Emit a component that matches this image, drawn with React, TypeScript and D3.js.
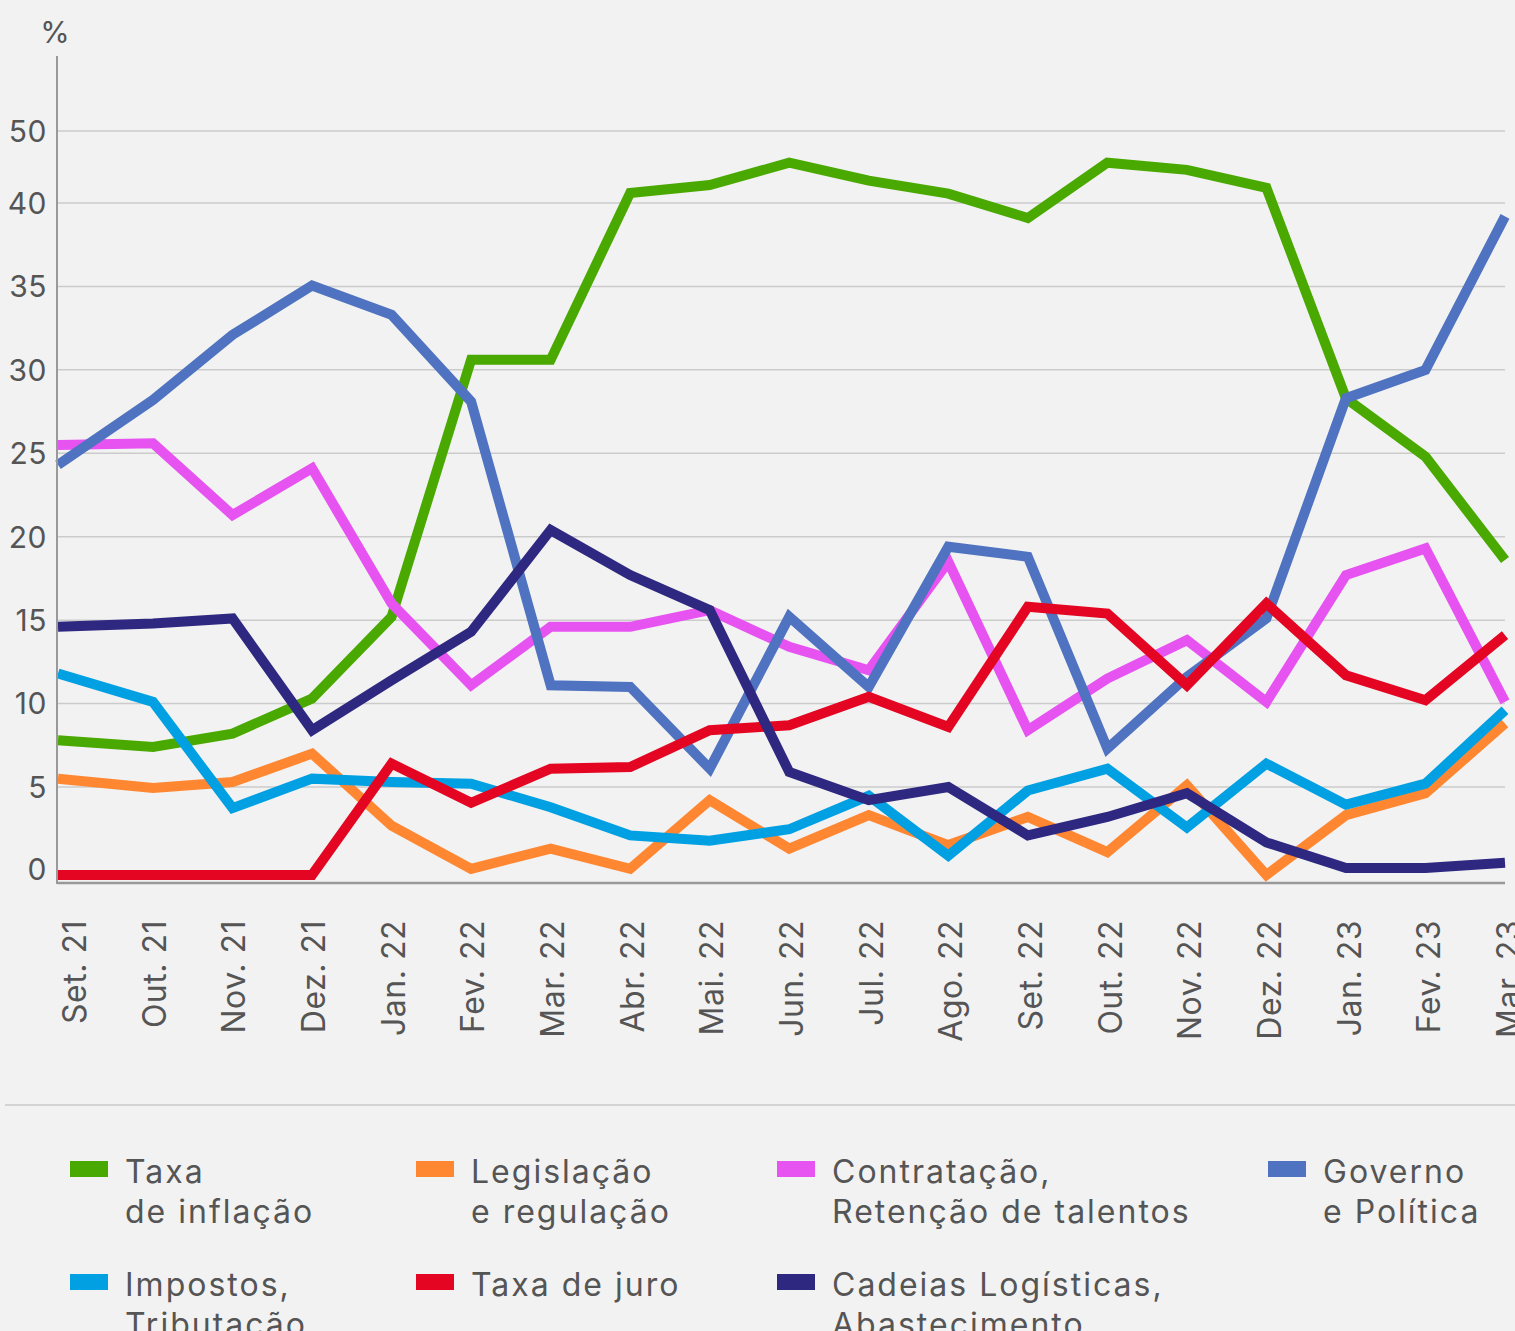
import * as d3 from 'd3';

// Months on the x axis
const months = [
  'Set. 21', 'Out. 21', 'Nov. 21', 'Dez. 21', 'Jan. 22', 'Fev. 22', 'Mar. 22',
  'Abr. 22', 'Mai. 22', 'Jun. 22', 'Jul. 22', 'Ago. 22', 'Set. 22', 'Out. 22',
  'Nov. 22', 'Dez. 22', 'Jan. 23', 'Fev. 23', 'Mar. 23',
];

// Y ticks as printed (note: no 45, the axis jumps from 40 to 50)
const yTicks = [0, 5, 10, 15, 20, 25, 30, 35, 40, 50];

// Series values (%)
const inflacao = [7.8, 7.4, 8.2, 10.3, 15.2, 30.6, 30.6, 41.4, 42.5, 45.6, 43.1, 41.3, 39.1, 45.6, 44.6, 42.1, 28.3, 24.8, 18.6];
const legislacao = [5.5, 4.95, 5.3, 7.0, 2.8, 0.35, 1.5, 0.35, 4.25, 1.5, 3.4, 1.7, 3.3, 1.3, 5.1, 0, 3.4, 4.65, 8.8];
const contratacao = [25.5, 25.6, 21.3, 24.1, 16.0, 11.1, 14.6, 14.6, 15.6, 13.4, 12.0, 18.5, 8.4, 11.5, 13.8, 10.1, 17.7, 19.3, 10.1];
const governo = [24.3, 28.2, 32.1, 35.05, 33.3, 28.1, 11.1, 11.0, 6.1, 15.2, 11.0, 19.4, 18.8, 7.3, 11.6, 15.1, 28.3, 30.0, 39.2];
const impostos = [11.8, 10.1, 3.8, 5.5, 5.3, 5.2, 3.85, 2.25, 1.95, 2.6, 4.5, 1.1, 4.8, 6.1, 2.7, 6.4, 4.0, 5.2, 9.6];
const juro = [0, 0, 0, 0, 6.4, 4.1, 6.1, 6.2, 8.4, 8.7, 10.4, 8.6, 15.8, 15.4, 11.1, 16.0, 11.7, 10.2, 14.1];
const cadeias = [14.6, 14.8, 15.1, 8.4, 11.4, 14.3, 20.4, 17.7, 15.6, 5.9, 4.25, 5.0, 2.25, 3.3, 4.65, 1.85, 0.4, 0.4, 0.7];

// Legend labels (line broken as in the original)
const seriesLabels = [
  ['Taxa', 'de inflação'],
  ['Legislação', 'e regulação'],
  ['Contratação,', 'Retenção de talentos'],
  ['Governo', 'e Política'],
  ['Impostos,', 'Tributação'],
  ['Taxa de juro'],
  ['Cadeias Logísticas,', 'Abastecimento'],
];
const seriesValues = [inflacao, legislacao, contratacao, governo, impostos, juro, cadeias];
const seriesColors = ['#4aa900', '#ff8732', '#e653f0', '#4f73c0', '#00a0e3', '#e30522', '#2e2880'];

const WIDTH = 1515;
const HEIGHT = 1331;
const FONT = 'Inter, "Noto Sans", sans-serif';
const TEXT = '#555555';

export default function App() {
  // First month sits on the y axis, the remaining months are evenly spaced.
  const x = d3
    .scaleLinear()
    .domain([0, 1, months.length - 1])
    .range([58, 153, 1505]);
  // Month labels are evenly spaced along the bottom band.
  const xLabel = d3.scalePoint<string>().domain(months).range([74, 1508]);
  // Piecewise scale: 5-unit steps up to 40, then a compressed 40→50 step.
  const y = d3.scaleLinear().domain([0, 5, 40, 50]).range([875, 787, 203, 131]);

  const axisY = 883;
  const axisX = 57;
  const plotRight = 1505;

  const line = d3
    .line<number>()
    .x((_, i) => x(i))
    .y(d => y(d));

  // Legend grid: 4 columns, 2 rows
  const legendCols = [70, 416, 777, 1268];
  const legendRows = [1161, 1274];

  return (
    <svg
      width={WIDTH}
      height={HEIGHT}
      viewBox={`0 0 ${WIDTH} ${HEIGHT}`}
      style={{ position: 'absolute', left: 0, top: 0, display: 'block' }}
      fontFamily={FONT}
    >
      <rect width={WIDTH} height={HEIGHT} fill="#f2f2f2" />

      {/* gridlines */}
      {yTicks
        .filter(t => t > 0)
        .map(t => (
          <line
            key={`g-${t}`}
            x1={axisX}
            x2={plotRight}
            y1={y(t)}
            y2={y(t)}
            stroke="#cbcbcb"
            strokeWidth={1.5}
          />
        ))}

      {/* y tick labels */}
      {yTicks.map(t => (
        <text
          key={`yt-${t}`}
          x={47}
          y={t === 0 ? y(t) - 6 : y(t)}
          dy="0.36em"
          textAnchor="end"
          fontSize={30}
          letterSpacing={0.5}
          fill={TEXT}
        >
          {t}
        </text>
      ))}
      <text x={55} y={43} textAnchor="middle" fontSize={30} fill={TEXT}>
        %
      </text>

      {/* series */}
      {seriesValues.map((vals, i) => (
        <path
          key={`s-${i}`}
          d={line(vals) ?? ''}
          fill="none"
          stroke={seriesColors[i]}
          strokeWidth={10}
          strokeLinejoin="miter"
          strokeLinecap="butt"
        />
      ))}

      {/* axes */}
      <line x1={axisX} x2={axisX} y1={56} y2={axisY + 1} stroke="#999" strokeWidth={2} />
      <line x1={axisX} x2={plotRight} y1={axisY} y2={axisY} stroke="#999" strokeWidth={2.5} />

      {/* x labels, rotated */}
      {months.map(m => {
        const cx = xLabel(m) ?? 0;
        return (
          <text
            key={`xl-${m}`}
            transform={`translate(${cx + 12},920) rotate(-90)`}
            textAnchor="end"
            fontSize={32}
            letterSpacing={0.5}
            fill={TEXT}
          >
            {m}
          </text>
        );
      })}

      {/* separator */}
      <line x1={5} x2={WIDTH} y1={1105} y2={1105} stroke="#d3d3d3" strokeWidth={2} />

      {/* legend */}
      {seriesLabels.map((lines, i) => {
        const col = legendCols[i % 4];
        const row = legendRows[Math.floor(i / 4)];
        return (
          <g key={`lg-${i}`}>
            <rect x={col} y={row} width={38} height={16} fill={seriesColors[i]} />
            <text
              x={col + 55}
              y={row + 22}
              fontSize={32}
              letterSpacing={2}
              fill={TEXT}
            >
              {lines.map((l, j) => (
                <tspan key={j} x={col + 55} dy={j === 0 ? 0 : 40}>
                  {l}
                </tspan>
              ))}
            </text>
          </g>
        );
      })}
    </svg>
  );
}
